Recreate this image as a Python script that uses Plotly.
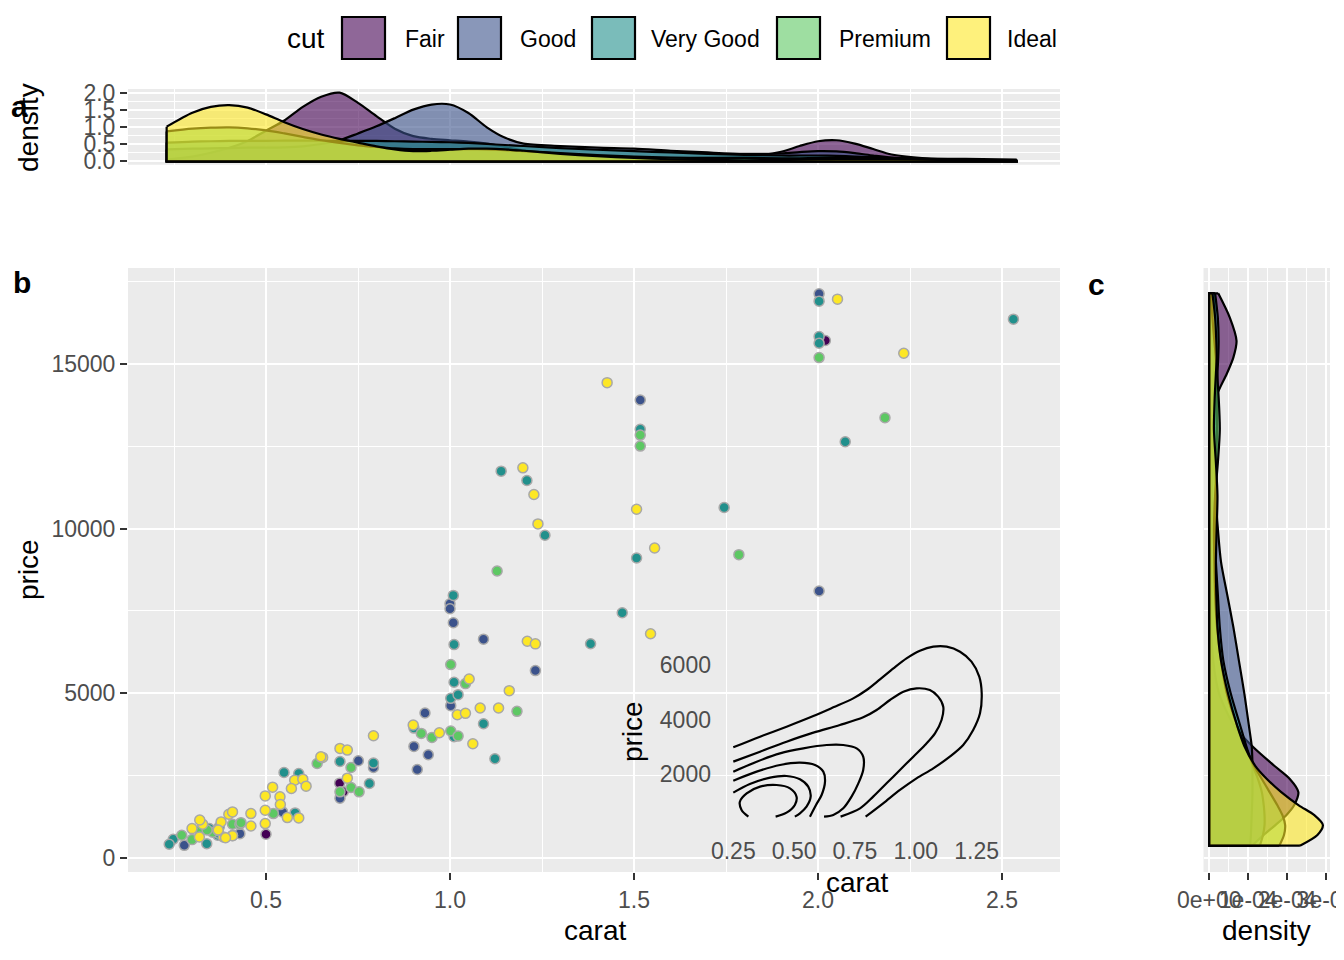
import plotly.graph_objects as go

# The page adds an 8px body margin, so the figure is drawn 8px in from the window edge.
OFF = 8
W, H = 1344 - OFF, 960 - OFF
def fx(px): return (px - OFF) / W
def fy(py): return 1 - (py - OFF) / H

FONT = "Liberation Sans, Arial, sans-serif"
cuts = ["Fair", "Good", "Very Good", "Premium", "Ideal"]
base_rgb = {"Fair": (68, 1, 84), "Good": (59, 82, 139), "Very Good": (33, 144, 140),
            "Premium": (93, 200, 99), "Ideal": (253, 231, 37)}
ALPHA = 0.6

# ---------------- scatter data (carat, price) per cut ----------------
fair_carat = [0.50, 0.70, 0.71, 2.02]
fair_price = [720, 2272, 2013, 15710]

good_carat = [2.003, 1.517, 2.003, 1.0, 1.0, 1.009, 1.091, 1.232, 1.002, 0.932, 0.902, 0.941,
              0.911, 0.751, 0.792, 0.701, 0.545, 0.429, 0.278]
good_price = [17129, 13905, 8105, 7720, 7568, 7142, 6643, 5690, 4625, 4402, 3388, 3134,
              2688, 2952, 2749, 1816, 1399, 740, 385]

vgood_carat = [2.003, 2.531, 2.003, 2.003, 1.517, 2.074, 1.139, 1.209, 1.745, 1.258, 1.507, 1.009,
               1.468, 1.011, 1.382, 1.011, 1.002, 1.022, 1.091, 0.902, 1.011, 1.122, 0.701, 0.792,
               0.781, 0.549, 0.589, 0.579, 0.373, 0.346, 0.339, 0.248, 0.237, 0.369, 0.371]
vgood_price = [16906, 16359, 15831, 15629, 13013, 12637, 11745, 11461, 10640, 9798, 9109, 7973,
               7446, 6480, 6506, 5335, 4848, 4959, 4077, 3945, 3682, 3013, 2931, 2881,
               2262, 2596, 2565, 1369, 943, 892, 436, 568, 416, 690, 750]

prem_carat = [2.003, 1.517, 1.517, 2.182, 1.785, 1.128, 1.002, 1.042, 1.182, 0.922, 0.951, 1.002,
              1.022, 0.731, 0.731, 0.753, 0.701, 0.639, 0.520, 0.409, 0.429, 0.409, 0.355, 0.321,
              0.299, 0.271, 0.432, 0.340]
prem_price = [15193, 12840, 12506, 13367, 9210, 8713, 5872, 5294, 4452, 3783, 3662, 3854,
              3702, 2749, 2141, 2009, 2009, 2870, 1349, 1024, 1024, 680, 781, 842,
              558, 690, 1072, 850]

ideal_carat = [2.053, 2.233, 1.427, 1.198, 1.228, 1.507, 1.239, 1.556, 1.545, 1.210, 1.232, 1.052,
               1.161, 1.082, 1.132, 1.020, 1.042, 0.900, 0.971, 1.062, 0.792, 0.654, 0.701, 0.721,
               0.721, 0.649, 0.578, 0.600, 0.569, 0.609, 0.518, 0.498, 0.538, 0.498, 0.539, 0.558,
               0.589, 0.498, 0.459, 0.459, 0.399, 0.409, 0.384, 0.378, 0.369, 0.328, 0.299, 0.319,
               0.409, 0.390, 0.320, 0.370]
ideal_price = [16967, 15324, 14432, 11846, 11035, 10589, 10143, 9413, 6807, 6582, 6501, 5436,
               5081, 4554, 4554, 4351, 4392, 4037, 3803, 3469, 3712, 3053, 3327, 3276,
               2424, 3072, 2363, 2393, 2109, 2180, 2150, 1886, 1856, 1450, 1622, 1227,
               1217, 1044, 1349, 973, 1328, 1399, 639, 1095, 842, 1024, 892, 639,
               679, 617, 1154, 850]

scatter_data = {"Fair": (fair_carat, fair_price), "Good": (good_carat, good_price),
                "Very Good": (vgood_carat, vgood_price), "Premium": (prem_carat, prem_price),
                "Ideal": (ideal_carat, ideal_price)}

# ---------------- top marginal densities (carat) ----------------
top_carat = [0.23, 0.30, 0.35, 0.40, 0.45, 0.50, 0.55, 0.60, 0.65, 0.70, 0.75, 0.80, 0.85, 0.90,
             0.95, 1.00, 1.05, 1.10, 1.15, 1.20, 1.30, 1.40, 1.50, 1.60, 1.70, 1.80, 1.90, 1.95,
             2.00, 2.05, 2.10, 2.15, 2.20, 2.30, 2.40, 2.54]
top_dens = {
    "Fair":      [0.05, 0.14, 0.25, 0.40, 0.60, 0.90, 1.20, 1.60, 1.90, 2.02, 1.72, 1.33, 0.96, 0.74,
                  0.66, 0.62, 0.58, 0.52, 0.42, 0.32, 0.18, 0.12, 0.10, 0.09, 0.10, 0.13, 0.28, 0.45,
                  0.59, 0.62, 0.52, 0.36, 0.20, 0.08, 0.04, 0.02],
    "Good":      [0.35, 0.37, 0.38, 0.39, 0.40, 0.40, 0.41, 0.44, 0.51, 0.62, 0.82, 1.03, 1.27, 1.52,
                  1.67, 1.67, 1.42, 1.00, 0.69, 0.52, 0.45, 0.40, 0.37, 0.31, 0.26, 0.22, 0.23, 0.27,
                  0.30, 0.29, 0.24, 0.17, 0.11, 0.06, 0.04, 0.03],
    "Very Good": [0.55, 0.58, 0.59, 0.60, 0.60, 0.60, 0.61, 0.61, 0.61, 0.60, 0.60, 0.60, 0.59, 0.58,
                  0.57, 0.56, 0.54, 0.51, 0.48, 0.45, 0.39, 0.34, 0.30, 0.26, 0.22, 0.19, 0.17, 0.17,
                  0.17, 0.16, 0.14, 0.12, 0.10, 0.08, 0.07, 0.05],
    "Premium":   [0.88, 0.96, 0.99, 1.00, 0.97, 0.91, 0.82, 0.72, 0.62, 0.54, 0.47, 0.42, 0.38, 0.36,
                  0.36, 0.36, 0.36, 0.35, 0.33, 0.30, 0.24, 0.18, 0.14, 0.11, 0.10, 0.10, 0.09, 0.09,
                  0.10, 0.10, 0.10, 0.09, 0.08, 0.05, 0.02, 0.01],
    "Ideal":     [1.02, 1.43, 1.60, 1.65, 1.58, 1.38, 1.15, 0.95, 0.79, 0.66, 0.55, 0.44, 0.35, 0.30,
                  0.31, 0.34, 0.37, 0.37, 0.35, 0.31, 0.22, 0.15, 0.10, 0.06, 0.04, 0.03, 0.04, 0.05,
                  0.06, 0.07, 0.07, 0.07, 0.07, 0.05, 0.02, 0.01],
}

# ---------------- right marginal densities (price), units of 1e-04 ----------------
right_price = [374, 700, 1000, 1300, 1600, 2000, 2400, 2800, 3400, 4000, 5000, 6000, 7000, 8000,
               9000, 10000, 11000, 12000, 13000, 14000, 14700, 15200, 15700, 16400, 17144]
right_dens = {
    "Fair":      [1.10, 1.40, 1.70, 1.98, 2.18, 2.29, 2.07, 1.67, 1.10, 0.65, 0.25, 0.10, 0.05, 0.04,
                  0.04, 0.05, 0.06, 0.07, 0.09, 0.18, 0.45, 0.62, 0.70, 0.53, 0.23],
    "Good":      [1.05, 1.07, 1.08, 1.09, 1.10, 1.11, 1.11, 1.11, 1.09, 1.02, 0.90, 0.76, 0.62, 0.46,
                  0.30, 0.22, 0.16, 0.13, 0.13, 0.14, 0.14, 0.14, 0.14, 0.14, 0.13],
    "Very Good": [1.30, 1.38, 1.42, 1.42, 1.40, 1.35, 1.25, 1.12, 0.95, 0.80, 0.55, 0.36, 0.27, 0.22,
                  0.17, 0.15, 0.16, 0.18, 0.20, 0.20, 0.21, 0.23, 0.24, 0.22, 0.15],
    "Premium":   [1.80, 1.92, 1.95, 1.88, 1.75, 1.55, 1.35, 1.15, 0.92, 0.72, 0.45, 0.30, 0.20, 0.15,
                  0.13, 0.12, 0.15, 0.22, 0.27, 0.24, 0.20, 0.17, 0.13, 0.08, 0.04],
    "Ideal":     [2.33, 2.78, 2.92, 2.70, 2.30, 1.85, 1.48, 1.18, 0.90, 0.72, 0.48, 0.30, 0.21, 0.18,
                  0.17, 0.19, 0.21, 0.17, 0.12, 0.14, 0.17, 0.19, 0.18, 0.15, 0.08],
}

# ---------------- inset 2D density contour lines (carat, price) ----------------
contour_carat = [
    [0.250, 0.360, 0.469, 0.579, 0.661, 0.743, 0.798, 0.853, 0.908, 0.962, 1.017, 1.072, 1.127,
     1.182, 1.229, 1.261, 1.271, 1.264, 1.236, 1.195, 1.140, 1.072, 1.003, 0.935, 0.866, 0.794],
    [0.250, 0.360, 0.469, 0.579, 0.688, 0.784, 0.839, 0.894, 0.949, 1.003, 1.058, 1.092, 1.113,
     1.106, 1.079, 1.038, 0.990, 0.935, 0.880, 0.825, 0.771, 0.691],
    [0.250, 0.346, 0.442, 0.538, 0.634, 0.702, 0.757, 0.784, 0.784, 0.764, 0.736, 0.702, 0.661, 0.623],
    [0.250, 0.346, 0.442, 0.524, 0.586, 0.620, 0.627, 0.613, 0.590, 0.565],
    [0.250, 0.318, 0.401, 0.469, 0.524, 0.558, 0.568, 0.551, 0.524, 0.503],
    [0.312, 0.284, 0.277, 0.305, 0.360, 0.428, 0.483, 0.510, 0.503, 0.469, 0.424],
]
contour_price = [
    [2978, 3370, 3737, 4128, 4446, 4776, 5082, 5473, 5877, 6244, 6525, 6672, 6672,
     6488, 6122, 5571, 4960, 4226, 3614, 3064, 2636, 2208, 1841, 1413, 924, 435],
    [2453, 2819, 3186, 3517, 3798, 4079, 4348, 4715, 5021, 5143, 5082, 4837, 4470,
     3981, 3492, 3064, 2636, 2147, 1658, 1168, 740, 435],
    [2086, 2453, 2758, 2942, 3064, 3064, 2942, 2636, 2147, 1658, 1168, 740, 496, 435],
    [1755, 2086, 2330, 2416, 2330, 2086, 1719, 1230, 863, 435],
    [1315, 1633, 1865, 1927, 1804, 1535, 1168, 801, 557, 435],
    [435, 679, 985, 1291, 1535, 1596, 1474, 1168, 863, 581, 435],
]

# tick labels
main_x_ticks = [0.5, 1.0, 1.5, 2.0, 2.5]
main_x_minor = [0.25, 0.75, 1.25, 1.75, 2.25]
main_y_ticks = [0, 5000, 10000, 15000]
main_y_minor = [2500, 7500, 12500, 17500]
top_y_ticks = [0.0, 0.5, 1.0, 1.5, 2.0]
top_y_labels = ["0.0", "0.5", "1.0", "1.5", "2.0"]
top_y_minor = [0.25, 0.75, 1.25, 1.75]
right_x_ticks = [0, 1, 2, 3]
right_x_labels = ["0e+00", "1e-04", "2e-04", "3e-04"]
right_x_minor = [0.5, 1.5, 2.5]
inset_x_ticks = [0.25, 0.50, 0.75, 1.00, 1.25]
inset_x_labels = ["0.25", "0.50", "0.75", "1.00", "1.25"]
inset_y_ticks = [2000, 4000, 6000]


def rgba(cut, a):
    r, g, b = base_rgb[cut]
    return f"rgba({r},{g},{b},{a})"

def hexc(cut):
    r, g, b = base_rgb[cut]
    return f"rgb({r},{g},{b})"

fig = go.Figure()
OUT_W = 2.2

# top densities
for cut in cuts:
    d = top_dens[cut]
    fig.add_trace(go.Scatter(x=top_carat, y=d, mode="lines", fill="tozeroy",
                             fillcolor=rgba(cut, ALPHA), line=dict(color="black", width=OUT_W, shape="spline", smoothing=0.8),
                             xaxis="x2", yaxis="y2", showlegend=False, hoverinfo="skip"))
    fig.add_trace(go.Scatter(x=[top_carat[0], top_carat[0], top_carat[-1], top_carat[-1]],
                             y=[d[0], 0, 0, d[-1]], mode="lines",
                             line=dict(color="black", width=OUT_W), xaxis="x2", yaxis="y2",
                             showlegend=False, hoverinfo="skip"))

# right densities
for cut in cuts:
    d = right_dens[cut]
    fig.add_trace(go.Scatter(x=d, y=right_price, mode="lines", fill="tozerox",
                             fillcolor=rgba(cut, ALPHA), line=dict(color="black", width=OUT_W, shape="spline", smoothing=0.8),
                             xaxis="x3", yaxis="y3", showlegend=False, hoverinfo="skip"))
    fig.add_trace(go.Scatter(x=[d[0], 0, 0, d[-1]],
                             y=[right_price[0], right_price[0], right_price[-1], right_price[-1]], mode="lines",
                             line=dict(color="black", width=OUT_W), xaxis="x3", yaxis="y3",
                             showlegend=False, hoverinfo="skip"))

# main scatter
for cut in cuts:
    cx, py = scatter_data[cut]
    fig.add_trace(go.Scatter(x=cx, y=py, mode="markers",
                             marker=dict(size=10, color=hexc(cut), line=dict(color="#A8A8A8", width=1.5)),
                             xaxis="x", yaxis="y", showlegend=False, hoverinfo="skip"))

# inset contours
for cx, py in zip(contour_carat, contour_price):
    fig.add_trace(go.Scatter(x=cx, y=py, mode="lines",
                             line=dict(color="black", width=2.2, shape="spline", smoothing=0.9),
                             xaxis="x4", yaxis="y4", showlegend=False, hoverinfo="skip"))

tickfont = dict(family=FONT, size=23, color="#4D4D4D")
grid = dict(showgrid=True, gridcolor="white", gridwidth=2.2, zeroline=False, showline=False,
            automargin=False, ticklabeloverflow="allow")

def minor(vals):
    return dict(tickvals=vals, showgrid=True, gridcolor="white", gridwidth=1.1, ticks="")

main_x_range = [0.125, 2.6576]
main_y_range = [-425, 17912]

fig.update_layout(
    template="none",
    width=W, height=H, margin=dict(l=0, r=0, t=0, b=0, pad=0, autoexpand=False),
    paper_bgcolor="white", plot_bgcolor="rgba(0,0,0,0)",
    font=dict(family=FONT, color="black"),
    showlegend=False,
    xaxis=dict(domain=[fx(128), fx(1060)], range=main_x_range, tickmode="array", tickvals=main_x_ticks,
               ticktext=["0.5", "1.0", "1.5", "2.0", "2.5"], minor=minor(main_x_minor),
               ticks="outside", ticklen=7, tickwidth=2, tickcolor="#333333", tickfont=tickfont,
               tickangle=0, anchor="y", **grid),
    yaxis=dict(domain=[fy(872), fy(268)], range=main_y_range, tickmode="array", tickvals=main_y_ticks,
               ticktext=["0", "5000", "10000", "15000"], minor=minor(main_y_minor),
               ticks="outside", ticklen=7, tickwidth=2, tickcolor="#333333", tickfont=tickfont,
               anchor="x", **grid),
    xaxis2=dict(domain=[fx(128), fx(1060)], range=main_x_range, tickmode="array", tickvals=main_x_ticks,
                showticklabels=False, ticks="", minor=minor(main_x_minor), anchor="y2", **grid),
    yaxis2=dict(domain=[fy(164.7), fy(88.9)], range=[-0.1, 2.13], tickmode="array", tickvals=top_y_ticks,
                ticktext=top_y_labels, minor=minor(top_y_minor), ticks="outside", ticklen=7, tickwidth=2,
                tickcolor="#333333", tickfont=tickfont, anchor="x2", **grid),
    xaxis3=dict(domain=[fx(1203.5), fx(1330)], range=[-0.149, 3.103], tickmode="array", tickvals=right_x_ticks,
                ticktext=right_x_labels, minor=minor(right_x_minor), ticks="outside", ticklen=7, tickwidth=2,
                tickcolor="#333333", tickfont=tickfont, tickangle=0, anchor="y3", **grid),
    yaxis3=dict(domain=[fy(872), fy(268)], range=main_y_range, tickmode="array", tickvals=main_y_ticks,
                showticklabels=False, ticks="", minor=minor(main_y_minor), anchor="x3", **grid),
    xaxis4=dict(domain=[fx(712), fx(1010)], range=[0.1625, 1.3873], tickmode="array", tickvals=inset_x_ticks,
                ticktext=inset_x_labels, showgrid=False, zeroline=False, showline=False, ticks="",
                tickfont=tickfont, tickangle=0, anchor="y4", automargin=False, ticklabeloverflow="allow"),
    yaxis4=dict(domain=[fy(835), fy(640)], range=[-238.5, 6917], tickmode="array", tickvals=inset_y_ticks,
                ticktext=[str(v) for v in inset_y_ticks], showgrid=False, zeroline=False, showline=False,
                ticks="", tickfont=tickfont, anchor="x4", automargin=False, ticklabeloverflow="allow"),
)

# panel backgrounds
shapes = []
for (x0, x1, y0, y1) in [(128, 1060, 268, 872), (128, 1060, 88.9, 164.7), (1203.5, 1330, 268, 872)]:
    shapes.append(dict(type="rect", xref="paper", yref="paper", x0=fx(x0), x1=fx(x1), y0=fy(y1), y1=fy(y0),
                       fillcolor="#EBEBEB", line=dict(width=0), layer="below"))

# legend
legend_box_left = [342, 458, 592, 777, 947]
legend_label_left = [403, 518, 649, 837, 1005]
for cut, bx, lx in zip(cuts, legend_box_left, legend_label_left):
    shapes.append(dict(type="rect", xref="paper", yref="paper", x0=fx(bx), x1=fx(bx + 43), y0=fy(59), y1=fy(17),
                       fillcolor=rgba(cut, ALPHA), line=dict(color="black", width=2.2), layer="above"))
fig.update_layout(shapes=shapes)

ann = []
def txt(t, x, y, size, angle=0, bold=False, xanchor="center", color="black"):
    ann.append(dict(text=(f"<b>{t}</b>" if bold else t), x=fx(x), y=fy(y), xref="paper", yref="paper",
                    showarrow=False, textangle=angle, xanchor=xanchor, yanchor="middle",
                    font=dict(family=FONT, size=size, color=color)))

for cut, lx in zip(cuts, legend_label_left):
    txt(cut, lx, 39, 23, xanchor="left")
txt("cut", 306, 39, 28)
txt("carat", 595, 930, 28)
txt("price", 28, 570, 28, angle=-90)
txt("density", 28, 128, 28, angle=-90)
txt("density", 1266, 930, 28)
txt("price", 632, 732, 28, angle=-90)
txt("carat", 857, 882, 28)
txt("a", 19, 107, 30, bold=True)
txt("b", 22, 282, 30, bold=True)
txt("c", 1096, 284, 30, bold=True)
fig.update_layout(annotations=ann)

fig.write_html("out.html")
